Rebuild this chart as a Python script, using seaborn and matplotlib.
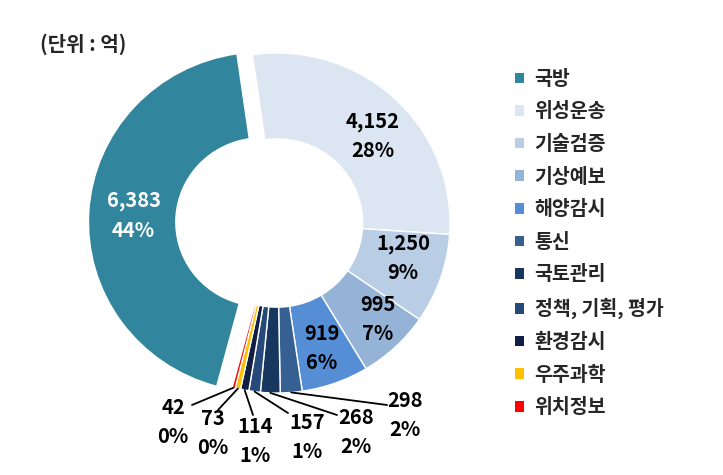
import matplotlib
matplotlib.use("Agg")
import matplotlib.pyplot as plt
import seaborn as sns
import numpy as np

categories = ["국방", "위성운송", "기술검증", "기상예보", "해양감시", "통신",
              "국토관리", "정책, 기획, 평가", "환경감시", "우주과학", "위치정보"]
values = [6383, 4152, 1250, 995, 919, 298, 268, 157, 114, 73, 42]
colors = ["#31859C", "#DCE6F2", "#B9CDE5", "#95B3D7", "#558ED5", "#376092",
          "#17375E", "#254A7A", "#111F45", "#FFC000", "#FF0000"]
unit_label = "(단위 : 억)"

sns.set_theme(style="white")
plt.rcParams['font.family'] = ['Noto Sans CJK KR', 'DejaVu Sans']

W, H = 723, 475
fig = plt.figure(figsize=(W / 100, H / 100), dpi=100)
fig.patch.set_facecolor("white")

cx, cy = 277, 223      # pie centre in pixels
rx, ry = 173, 170      # outer radii in pixels
ax = fig.add_axes([(cx - 1.25 * rx) / W, (H - cy - 1.25 * ry) / H,
                   2.5 * rx / W, 2.5 * ry / H])

explode = [0.09] + [0] * (len(values) - 1)
wedges, _ = ax.pie(values, colors=colors, startangle=255, counterclock=False,
                   explode=explode,
                   wedgeprops=dict(width=0.505, edgecolor="white", linewidth=1.0))
ax.set_aspect("auto")
ax.set_xlim(-1.25, 1.25)
ax.set_ylim(-1.25, 1.25)
ax.axis("off")

total = sum(values)
pcts = [f"{round(v / total * 100):d}%" for v in values]
texts = [f"{v:,}\n{p}" for v, p in zip(values, pcts)]

def px2d(px, py):
    return ((px - cx) / rx, (cy - py) / ry)

LS = 1.5
FS = 14.5

# inner labels (first five slices)
inner_r = [0.74, 0.755, 0.757, 0.81, 0.78]
inner_off = [0.4, -4.5, 3.4, 2.7, -0.3]
inner_col = ["white", "black", "black", "black", "black"]
for i in range(5):
    w = wedges[i]
    ang = np.deg2rad((w.theta1 + w.theta2) / 2 + inner_off[i])
    x = w.center[0] + inner_r[i] * np.cos(ang)
    y = w.center[1] + inner_r[i] * np.sin(ang)
    ax.text(x, y, texts[i], ha="center", va="center", fontsize=FS,
            fontweight="bold", color=inner_col[i], linespacing=LS)

# outer labels with leader lines (small slices)
label_px = {5: (405, 415), 6: (356, 432), 7: (307, 437), 8: (255, 441),
            9: (213, 433), 10: (173, 422)}
line_px = {5: (387, 405), 6: (337, 415), 7: (288, 413), 8: (253, 415),
           9: (218, 410), 10: (192, 405)}
for i in range(5, len(values)):
    w = wedges[i]
    ang = np.deg2rad((w.theta1 + w.theta2) / 2)
    sx = w.center[0] + 1.0 * np.cos(ang)
    sy = w.center[1] + 1.0 * np.sin(ang)
    ex, ey = px2d(*line_px[i])
    ax.plot([sx, ex], [sy, ey], color="black", lw=1.3, clip_on=False)
    tx, ty = px2d(*label_px[i])
    ax.text(tx, ty, texts[i], ha="center", va="center", fontsize=FS,
            fontweight="bold", color="black", linespacing=LS, clip_on=False)

fig.text(40 / W, 1 - 44 / H, unit_label, ha="left", va="center",
         fontsize=14.5, fontweight="bold")

leg = fig.legend(wedges, categories, loc="upper left",
                 bbox_to_anchor=(507 / W, 1 - 62 / H), frameon=False,
                 handlelength=0.47, handleheight=0.47, handletextpad=0.55,
                 labelspacing=0.7, borderaxespad=0,
                 prop=dict(size=14, weight="bold"))
for h in leg.legend_handles:
    h.set_edgecolor("none")

fig.savefig("out.png", dpi=100)
